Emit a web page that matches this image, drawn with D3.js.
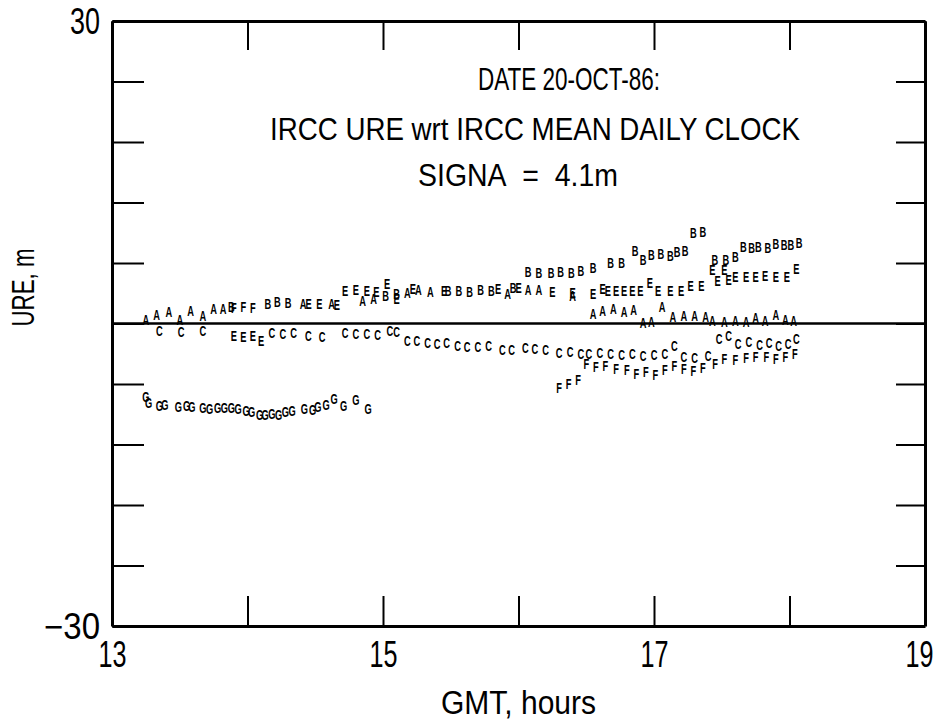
<!DOCTYPE html>
<html>
<head>
<meta charset="utf-8">
<script src="https://cdn.jsdelivr.net/npm/d3@7"></script>
<style>
  html, body { margin: 0; padding: 0; background: #fff; }
  svg { display: block; }
  text { font-family: "Liberation Sans Narrow", "Liberation Sans", Arial, sans-serif; fill: #000; }
</style>
</head>
<body>
<svg id="chart" width="945" height="726"></svg>
<script>
// ---------- data (GMT hours, URE metres) ----------
const titleLines = ["DATE 20-OCT-86:", "IRCC URE wrt IRCC MEAN DAILY CLOCK", "SIGNA\u00a0\u00a0=\u00a0\u00a04.1m"];
const xLabel = "GMT, hours";
const yLabel = "URE, m";
const xTicks = [13, 14, 15, 16, 17, 18, 19];
const xTickLabels = ["13", "", "15", "", "17", "", "19"];
const yTicks = [-30, -24, -18, -12, -6, 0, 6, 12, 18, 24, 30];
const yTickLabels = ["\u221230", "", "", "", "", "", "", "", "", "", "30"];

const hoursA = [13.25, 13.33, 13.42, 13.50, 13.58, 13.67, 13.75, 13.82, 14.41, 14.62, 14.85, 14.93,
  15.18, 15.26, 15.35, 15.92, 16.07, 16.15, 16.40, 16.55, 16.62, 16.70, 16.78, 16.85, 16.92, 16.98,
  17.06, 17.14, 17.22, 17.30, 17.38, 17.43, 17.52, 17.60, 17.68, 17.75, 17.82, 17.90, 17.97, 18.03];
const ureA = [0.4, 0.9, 1.2, 0.4, 1.3, 0.8, 1.5, 1.5, 2.0, 2.0, 2.3, 2.5,
  3.1, 3.4, 3.2, 3.0, 3.4, 3.4, 2.8, 1.0, 1.3, 1.5, 1.2, 1.4, 0.1, 0.2,
  1.7, 0.7, 0.8, 0.8, 0.7, 0.3, 0.2, 0.3, 0.2, 0.6, 0.3, 0.9, 0.4, 0.3];

const hoursB = [13.88, 14.15, 14.22, 14.30, 15.02, 15.10, 15.48, 15.56, 15.64, 15.72, 15.80, 15.96,
  16.07, 16.15, 16.24, 16.31, 16.39, 16.46, 16.55, 16.68, 16.76, 16.86, 16.92, 16.98, 17.05, 17.12,
  17.17, 17.23, 17.29, 17.36, 17.45, 17.53, 17.60, 17.66, 17.72, 17.77, 17.84, 17.90, 17.96, 18.01, 18.07];
const ureB = [1.7, 2.0, 2.2, 2.1, 2.8, 3.0, 3.3, 3.3, 3.2, 3.4, 3.3, 3.6,
  5.1, 5.0, 5.0, 5.1, 5.0, 5.2, 5.5, 6.0, 6.0, 7.2, 6.3, 6.8, 6.9, 6.7,
  7.1, 7.2, 9.0, 9.1, 6.3, 6.3, 6.6, 7.6, 7.5, 7.6, 7.5, 7.9, 7.8, 7.8, 8.0];

const hoursC = [13.35, 13.51, 13.67, 14.18, 14.26, 14.34, 14.45, 14.55, 14.72, 14.80, 14.88, 14.96,
  15.05, 15.10, 15.18, 15.25, 15.33, 15.40, 15.47, 15.55, 15.62, 15.70, 15.78, 15.88, 15.95,
  16.05, 16.12, 16.20, 16.30, 16.38, 16.46, 16.52, 16.60, 16.68, 16.76, 16.84, 16.92, 17.00, 17.08,
  17.15, 17.22, 17.30, 17.40, 17.48, 17.55, 17.62, 17.70, 17.78, 17.85, 17.92, 17.99, 18.05];
const ureC = [-0.7, -0.8, -0.7, -0.9, -1.0, -0.9, -1.2, -1.3, -0.9, -1.0, -1.0, -1.1,
  -0.7, -0.8, -1.7, -1.7, -1.9, -2.0, -1.9, -2.2, -2.3, -2.3, -2.2, -2.6, -2.6,
  -2.4, -2.5, -2.6, -2.9, -2.8, -3.0, -3.0, -2.9, -3.0, -3.1, -3.0, -3.2, -3.1, -3.0,
  -2.2, -3.3, -3.4, -3.2, -1.5, -1.2, -2.0, -1.8, -2.1, -1.9, -2.2, -2.0, -1.5];

const hoursE = [13.90, 13.97, 14.04, 14.10, 14.45, 14.53, 14.66, 14.72, 14.80, 14.88, 14.95, 15.03, 15.10,
  15.22, 15.45, 15.85, 16.00, 16.25, 16.40, 16.55, 16.62, 16.66, 16.72, 16.78, 16.84, 16.90, 16.97,
  17.03, 17.12, 17.20, 17.27, 17.35, 17.43, 17.47, 17.52, 17.55, 17.60, 17.68, 17.75, 17.82, 17.90, 17.98, 18.05];
const ureE = [-1.2, -1.3, -1.2, -1.7, 2.0, 2.0, 1.9, 3.3, 3.4, 3.3, 3.2, 4.0, 2.5,
  3.5, 3.3, 3.5, 3.6, 3.2, 3.1, 3.0, 3.5, 3.3, 3.3, 3.3, 3.3, 3.3, 4.1,
  3.3, 3.3, 3.3, 3.8, 3.8, 5.3, 4.3, 5.3, 4.4, 4.7, 4.7, 4.7, 4.8, 4.7, 4.7, 5.4];

const hoursF = [13.90, 13.97, 14.04, 16.30, 16.37, 16.44, 16.50, 16.57, 16.64, 16.72, 16.80, 16.87,
  16.94, 17.01, 17.08, 17.15, 17.22, 17.29, 17.36, 17.45, 17.52, 17.60, 17.68, 17.75, 17.83, 17.90, 17.97, 18.04];
const ureF = [1.6, 1.7, 1.6, -6.4, -6.0, -5.6, -4.0, -4.3, -4.2, -4.5, -4.6, -5.0,
  -4.8, -5.1, -4.6, -4.2, -4.5, -4.7, -4.4, -4.0, -3.5, -3.6, -3.4, -3.3, -3.3, -3.5, -3.3, -3.0];

const hoursG = [13.25, 13.27, 13.35, 13.39, 13.49, 13.55, 13.59, 13.67, 13.72, 13.78, 13.83, 13.88, 13.93,
  13.99, 14.03, 14.09, 14.13, 14.18, 14.23, 14.28, 14.33, 14.42, 14.48, 14.52, 14.58, 14.64, 14.71, 14.80, 14.89];
const ureG = [-7.2, -7.8, -8.1, -8.0, -8.2, -8.1, -8.2, -8.3, -8.4, -8.3, -8.3, -8.3, -8.4,
  -8.6, -8.7, -9.0, -9.0, -8.9, -9.0, -8.7, -8.6, -8.4, -8.5, -8.2, -8.0, -7.4, -8.1, -7.5, -8.4];

const seriesLetters = ["A", "B", "C", "E", "F", "G"];
const seriesHours = [hoursA, hoursB, hoursC, hoursE, hoursF, hoursG];
const seriesUre = [ureA, ureB, ureC, ureE, ureF, ureG];

// ---------- chart ----------
const svg = d3.select("#chart");
const x = d3.scaleLinear().domain([13, 19]).range([112, 925]);
const y = d3.scaleLinear().domain([-30, 30]).range([626, 21]);

// zero line
svg.append("line")
  .attr("x1", x(13)).attr("x2", x(19))
  .attr("y1", y(0)).attr("y2", y(0))
  .attr("stroke", "#000").attr("stroke-width", 2.6);

// axes
const fmtX = d => xTickLabels[xTicks.indexOf(d)];
const fmtY = d => yTickLabels[yTicks.indexOf(d)];

const gB = svg.append("g").attr("transform", `translate(0,${y(-30)})`)
  .call(d3.axisBottom(x).tickValues(xTicks).tickFormat(fmtX).tickSizeInner(-30).tickSizeOuter(0).tickPadding(15));
const gT = svg.append("g").attr("transform", `translate(0,${y(30)})`)
  .call(d3.axisTop(x).tickValues(xTicks).tickFormat("").tickSizeInner(-29).tickSizeOuter(0));
const gL = svg.append("g").attr("transform", `translate(${x(13)},0)`)
  .call(d3.axisLeft(y).tickValues(yTicks).tickFormat(fmtY).tickSizeInner(-32).tickSizeOuter(0).tickPadding(12));
const gR = svg.append("g").attr("transform", `translate(${x(19)},0)`)
  .call(d3.axisRight(y).tickValues(yTicks).tickFormat("").tickSizeInner(-29).tickSizeOuter(0));

[gB, gT, gL, gR].forEach(g => {
  g.select(".domain").attr("stroke", "#000").attr("stroke-width", 3);
  g.selectAll(".tick line").attr("stroke", "#000").attr("stroke-width", 2);
  g.selectAll(".tick text").attr("font-size", 36)
    .attr("font-family", "'Liberation Sans Narrow', 'Liberation Sans', Arial, sans-serif")
    .attr("fill", "#000");
});
gL.selectAll(".tick text").attr("dy", "0.36em");
// condensed look of the original lettering
gB.selectAll(".tick text").filter(function () { return this.textContent !== ""; })
  .attr("textLength", 28).attr("lengthAdjust", "spacingAndGlyphs");
gB.selectAll(".tick text").filter(d => d === 19).attr("dx", -6);
gL.selectAll(".tick text").filter(function () { return this.textContent !== ""; })
  .attr("textLength", function () { return this.textContent.length > 2 ? 56 : 30; })
  .attr("lengthAdjust", "spacingAndGlyphs");

// markers (letters)
seriesLetters.forEach((letter, i) => {
  const pts = seriesHours[i].map((h, j) => [h, seriesUre[i][j]]);
  svg.append("g").selectAll("text").data(pts).join("text")
    .attr("transform", d => `translate(${x(d[0])},${y(d[1])}) scale(0.62,1)`)
    .attr("text-anchor", "middle")
    .attr("dy", "0.36em")
    .attr("font-size", 15)
    .attr("font-weight", "bold")
    .text(letter);
});

// titles
const titlePos = [[569, 90, 182], [535, 140, 530], [518, 186, 200]];
titleLines.forEach((t, i) => {
  svg.append("text")
    .attr("x", titlePos[i][0]).attr("y", titlePos[i][1])
    .attr("text-anchor", "middle")
    .attr("font-size", 31)
    .attr("textLength", titlePos[i][2])
    .attr("lengthAdjust", "spacingAndGlyphs")
    .text(t);
});

// axis labels
svg.append("text")
  .attr("x", (x(13) + x(19)) / 2).attr("y", 714)
  .attr("text-anchor", "middle")
  .attr("font-size", 33)
  .attr("textLength", 155)
  .attr("lengthAdjust", "spacingAndGlyphs")
  .text(xLabel);

svg.append("text")
  .attr("transform", `translate(34,${y(0) - 36}) rotate(-90)`)
  .attr("text-anchor", "middle")
  .attr("font-size", 32)
  .attr("textLength", 78)
  .attr("lengthAdjust", "spacingAndGlyphs")
  .text(yLabel);
</script>
</body>
</html>
